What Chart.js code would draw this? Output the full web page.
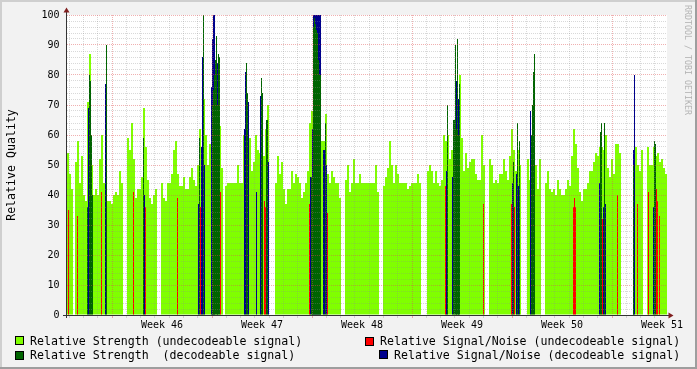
<!DOCTYPE html>
<html>
<head>
<meta charset="utf-8">
<script src="https://cdn.jsdelivr.net/npm/chart.js@4.4.0/dist/chart.umd.min.js"></script>
<style>
html,body{margin:0;padding:0;background:#f2f2f2;}
#wrap{position:relative;width:697px;height:369px;overflow:hidden;font-family:"DejaVu Sans Mono",monospace;}
#c{position:absolute;left:0;top:0;}
.lg{position:absolute;font-size:11.6px;line-height:14px;white-space:pre;color:#000;}
.sw{position:absolute;width:7px;height:7px;border:1px solid #000;}
#wm{position:absolute;left:693px;top:5px;transform:rotate(90deg);transform-origin:left top;font-size:8.3px;line-height:10px;color:#b4b4b4;white-space:pre;}
</style>
</head>
<body>
<div id="wrap">
<canvas id="c" width="697" height="369"></canvas>
<div class="sw" style="left:15px;top:336px;background:#80ff00"></div>
<div class="lg" style="left:30px;top:334px">Relative Strength (undecodeable signal)</div>
<div class="sw" style="left:365px;top:337px;background:#ff0000"></div>
<div class="lg" style="left:380px;top:334px">Relative Signal/Noise (undecodeable signal)</div>
<div class="sw" style="left:15px;top:351px;background:#006400"></div>
<div class="lg" style="left:30px;top:348px">Relative Strength  (decodeable signal)</div>
<div class="sw" style="left:379px;top:350px;background:#00008c"></div>
<div class="lg" style="left:394px;top:348px">Relative Signal/Noise (decodeable signal)</div>
<div id="wm">RRDTOOL / TOBI OETIKER</div>
</div>
<script>
// ---- time axis: 600 samples (6 weeks), week 46 starts at sample 45 ----
const SLOTS = 600;
const BIN = 2;                 // samples per strength value below
const FIRST_WEEK_SLOT = 45;
const SLOTS_PER_WEEK = 100;
const weekLabels = ['Week 46','Week 47','Week 48','Week 49','Week 50','Week 51'];
const yLabels = [0,10,20,30,40,50,60,70,80,90,100];

// Relative Strength (undecodeable signal), one value per 2 samples
const strengthUndec = [
 54,47,42,null,51,58,44,53,40,38,
 71,87,50,40,42,40,52,60,44,42,
 38,38,37,40,41,40,48,44,null,null,
 59,55,64,52,39,42,42,46,69,56,
 45,39,37,40,42,null,null,44,39,38,
 44,44,47,55,58,47,43,43,46,42,
 42,46,49,45,43,50,62,55,72,60,
 50,57,60,60,60,60,63,49,null,43,
 44,44,44,44,44,50,44,44,60,62,
 60,59,48,51,60,55,54,55,53,62,
 70,null,null,null,44,53,47,51,42,37,
 42,42,48,44,47,46,44,39,41,44,
 48,64,68,60,60,60,60,58,58,67,
 47,44,48,46,44,44,39,null,null,45,
 50,41,44,52,44,44,47,44,44,44,
 44,44,44,44,50,41,null,null,43,46,
 49,58,50,44,50,47,44,44,44,44,
 42,43,44,44,44,47,44,null,null,null,
 48,50,48,44,48,44,43,45,60,58,
 60,52,55,55,60,70,80,59,48,54,
 49,51,52,52,47,45,45,60,50,null,
 null,52,50,44,45,44,47,47,52,48,
 45,53,62,55,48,55,50,null,null,null,
 52,45,50,50,50,42,52,null,null,44,
 48,42,41,42,40,45,42,40,40,42,
 45,43,53,62,57,49,41,38,42,42,
 44,48,48,51,54,53,56,56,55,60,
 49,46,52,47,57,57,54,null,null,null,
 null,null,null,50,56,50,48,55,null,null,
 56,50,50,56,53,54,51,52,49,47
];

// [sample, value]
const snUndec = [
 [1,35],[10,33],[34,41],[66,41],[78,36],[110,39],[133,36],[153,41],[197,38],[198,36],
 [242,37],[260,34],[378,43],[416,37],[444,37],[447,36],[506,36],[507,39],[508,36],
 [535,32],[550,40],[570,37],[581,41],[589,42],[590,38],[592,33]
];
const strengthDec = [
 [20,36],[22,80],[23,78],[24,60],[25,40],[39,90],[76,59],[132,59],[136,100],
 [145,70],[146,75],[147,80],[148,85],[149,93],[150,70],[151,87],[152,86],
 [179,84],[180,74],[194,79],[195,74],[199,65],[200,65],
 [244,46],[245,46],[246,96],[247,99],[248,97],[249,95],[250,94],[251,85],[252,80],[253,80],[258,64],
 [380,70],[386,65],[387,65],[388,90],[389,62],[390,92],[391,60],[392,77],
 [446,51],[450,64],[452,58],[464,60],[465,70],[466,81],[467,87],
 [533,61],[534,64],[537,64],[566,50],[587,58],[588,57]
];
const snDec = [
 [21,69],[38,77],[77,40],[131,37],[134,56],[135,86],[137,50],[144,76],[145,92],[146,100],[147,100],[150,84],
 [177,62],[178,81],[181,71],[189,41],[193,73],[201,51],
 [243,46],[245,62],[246,100],[247,100],[248,100],[249,100],[250,100],[251,100],[252,100],[253,100],
 [256,55],[257,55],[259,50],
 [379,48],[385,46],[389,78],[391,72],[445,44],[449,47],[451,43],[463,68],
 [532,44],[536,36],[538,37],[566,55],[567,80],[586,36]
];

// ---- build ----
const binned = strengthUndec.map((v,i)=>({x:i*BIN+BIN/2, y:v}));
const single = arr => arr.map(([s,v])=>({x:s+0.5, y:v}));

const SLOTS_PER_DAY = SLOTS_PER_WEEK/7;
const tickKind = new Map();
const labelAt = new Map();
for (let k=-7; k<60; k++){
  const v = FIRST_WEEK_SLOT + k*SLOTS_PER_DAY;
  if (v <= 0 || v >= SLOTS) continue;
  tickKind.set(v, ((k%7)+7)%7===0 ? 'major' : 'minor');
}
weekLabels.forEach((l,i)=>{
  const v = FIRST_WEEK_SLOT + (i+0.5)*SLOTS_PER_WEEK;
  tickKind.set(v,'label'); labelAt.set(v,l);
});
const xTickValues = [...tickKind.keys()].sort((a,b)=>a-b);

const GRID = 'rgba(140,140,140,0.33)';
const MGRID = 'rgba(222,79,79,0.45)';
const CLEAR = 'rgba(0,0,0,0)';
const xGridColor = c => {
  const k = tickKind.get(c.tick && c.tick.value);
  return k==='major' ? MGRID : (k==='minor' ? GRID : CLEAR);
};

const framePlugin = {
  id:'frame',
  beforeDraw(chart){
    const g=chart.ctx, a=chart.chartArea, W=chart.width, H=chart.height;
    g.save();
    g.fillStyle='#f2f2f2'; g.fillRect(0,0,W,H);
    g.fillStyle='#cfcfcf'; g.fillRect(0,0,W,2); g.fillRect(0,0,2,H);
    g.fillStyle='#9e9e9e'; g.fillRect(0,H-2,W,2); g.fillRect(W-2,0,2,H);
    g.fillStyle='#ffffff'; g.fillRect(a.left,a.top,a.right-a.left,a.bottom-a.top);
    g.restore();
  },
  afterDraw(chart){
    const g=chart.ctx, a=chart.chartArea;
    g.save();
    g.strokeStyle='#333'; g.lineWidth=1;
    g.beginPath();
    g.moveTo(a.left-4, a.bottom+0.5); g.lineTo(a.right+2, a.bottom+0.5);
    g.moveTo(a.left-0.5, a.bottom+3); g.lineTo(a.left-0.5, a.top-3);
    g.stroke();
    g.fillStyle='#801f1f';
    g.beginPath();
    g.moveTo(a.right+1.5, a.bottom-2.5); g.lineTo(a.right+6.5, a.bottom+0.5); g.lineTo(a.right+1.5, a.bottom+3.5); g.closePath(); g.fill();
    g.beginPath();
    g.moveTo(a.left-3.5, a.top-2.5); g.lineTo(a.left-0.5, a.top-7.5); g.lineTo(a.left+2.5, a.top-2.5); g.closePath(); g.fill();
    g.restore();
  }
};

Chart.defaults.font.family = "'DejaVu Sans Mono', monospace";
Chart.defaults.color = '#000';

const common = {grouped:false, borderWidth:0, inflateAmount:0, barPercentage:1, categoryPercentage:1};

new Chart(document.getElementById('c'), {
  type:'bar',
  data:{datasets:[
    Object.assign({label:'Relative Strength (undecodeable signal)', data:binned, backgroundColor:'#80ff00', barThickness:2, order:4}, common),
    Object.assign({label:'Relative Signal/Noise (undecodeable signal)', data:single(snUndec), backgroundColor:'#ff0000', barThickness:1, order:3}, common),
    Object.assign({label:'Relative Strength  (decodeable signal)', data:single(strengthDec), backgroundColor:'#006400', barThickness:1, order:1}, common),
    Object.assign({label:'Relative Signal/Noise (decodeable signal)', data:single(snDec), backgroundColor:'#00008c', barThickness:1, order:2}, common)
  ]},
  options:{
    responsive:false, animation:false, devicePixelRatio:1,
    layout:{padding:{left:0, top:15, right:30, bottom:0}},
    plugins:{legend:{display:false}, tooltip:{enabled:false}},
    scales:{
      x:{
        type:'linear', min:0, max:SLOTS, offset:false,
        afterFit: s => { s.height = 54; },
        afterBuildTicks: s => { s.ticks = xTickValues.map(v=>({value:v})); },
        ticks:{autoSkip:false, maxRotation:0, minRotation:0, padding:1, font:{size:10}, color:'#000',
          callback: v => labelAt.get(v) || ''},
        grid:{z:1, offset:false, color:xGridColor, tickColor:xGridColor, tickLength:3, drawTicks:true, lineWidth:1},
        border:{display:false, dash:[1,1]}
      },
      y:{
        min:0, max:100,
        afterFit: s => { s.width = 67; },
        afterBuildTicks: s => { const t=[]; for (let v=0; v<=100; v+=2) t.push({value:v}); s.ticks=t; },
        ticks:{autoSkip:false, padding:7.5, font:{size:10}, color:'#000',
          callback: v => yLabels.includes(v) ? String(v) : ''},
        grid:{z:1, drawTicks:false, lineWidth:1,
          color: c => (c.tick && c.tick.value === 0) ? CLEAR : (yLabels.includes(c.tick && c.tick.value) ? MGRID : GRID)},
        border:{display:false, dash:[1,1]},
        title:{display:true, text:'Relative Quality', font:{size:11.6}, color:'#000', padding:{top:5,bottom:0}}
      }
    }
  },
  plugins:[framePlugin]
});
</script>
</body>
</html>
